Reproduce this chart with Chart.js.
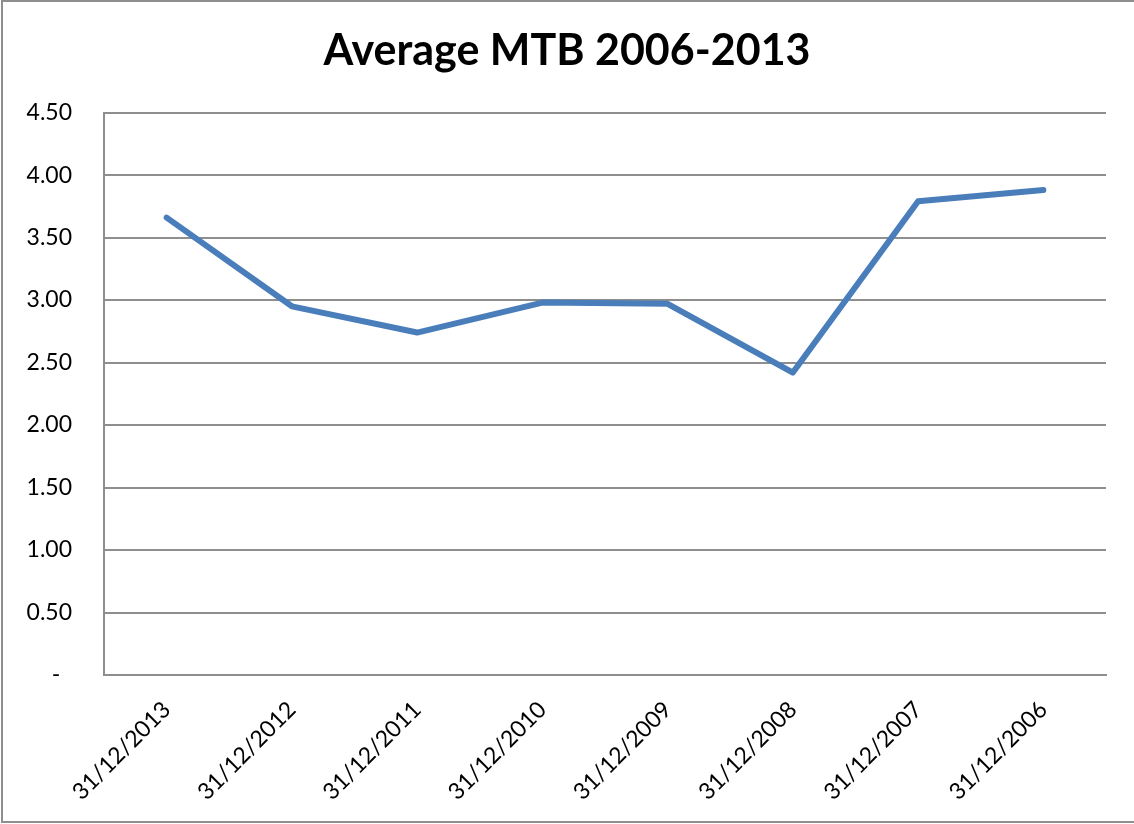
<!DOCTYPE html>
<html>
<head>
<meta charset="utf-8">
<script src="https://cdn.jsdelivr.net/npm/chart.js@4"></script>
<style>
  html, body { margin: 0; padding: 0; background: #fff; }
  #wrap { width: 1134px; height: 824px; position: relative; }
</style>
</head>
<body>
<div id="wrap"><canvas id="mtbChart"></canvas></div>
<script>
const labels = ["31/12/2013", "31/12/2012", "31/12/2011", "31/12/2010",
    "31/12/2009", "31/12/2008", "31/12/2007", "31/12/2006"];

const avgMtb = [3.66, 2.95, 2.74, 2.98, 2.97, 2.42, 3.79, 3.88];

const yTicks = [0, 0.5, 1, 1.5, 2, 2.5, 3, 3.5, 4, 4.5];

// outer frame like the spreadsheet chart border
const frame = {
  id: "frame",
  afterDraw(chart) {
    const ctx = chart.ctx;
    ctx.save();
    ctx.strokeStyle = "#8e8e8e";
    ctx.lineWidth = 2;
    ctx.strokeRect(2, 1, 1140, 821);
    ctx.restore();
  }
};

const data = {
  labels: labels,
  datasets: [
    {
      data: avgMtb,
      borderColor: "#4a7ebb",
      backgroundColor: "#4a7ebb",
      borderWidth: 6,
      pointRadius: 0,
      tension: 0,
      borderCapStyle: "round",
      borderJoinStyle: "round",
    },
  ],
};

const config = {
  type: "line",
  data: data,
  plugins: [frame],
  options: {
    responsive: true,
    maintainAspectRatio: false,
    animation: false,
    layout: { padding: 0 },
    plugins: {
      legend: { display: false },
      tooltip: { enabled: false },
      title: {
        display: true,
        text: "Average MTB 2006-2013",
        color: "#000",
        font: { family: "Lato", size: 43, weight: "bold" },
        padding: { top: 25, bottom: 36 }
      }
    },
    scales: {
      x: {
        offset: true,
        grid: { display: false, drawTicks: false },
        border: { display: true, color: "#8e8e8e", width: 2 },
        afterFit: s => { s.height = 149; },
        ticks: {
          color: "#000",
          font: { family: "Lato", size: 23 },
          minRotation: 45,
          maxRotation: 45,
          padding: 21
        }
      },
      y: {
        min: 0,
        max: 4.5,
        afterFit: s => { s.width = 104; },
        afterBuildTicks: s => { s.ticks = yTicks.map(v => ({ value: v })); },
        grid: { color: "#8e8e8e", lineWidth: 2, drawTicks: false },
        border: { display: true, color: "#8e8e8e", width: 2 },
        ticks: {
          color: "#000",
          font: { family: "Lato", size: 23 },
          padding: 32,
          callback: v => v === 0 ? "-  " : v.toFixed(2)
        }
      },
      // empty right gutter so the title centres on the full width
      gutter: {
        type: "linear",
        position: "right",
        afterFit: s => { s.width = 28; },
        grid: { display: false, drawTicks: false },
        border: { display: false },
        ticks: { display: false }
      }
    }
  }
};

let myChart = new Chart(document.getElementById("mtbChart"), config);
</script>
</body>
</html>
